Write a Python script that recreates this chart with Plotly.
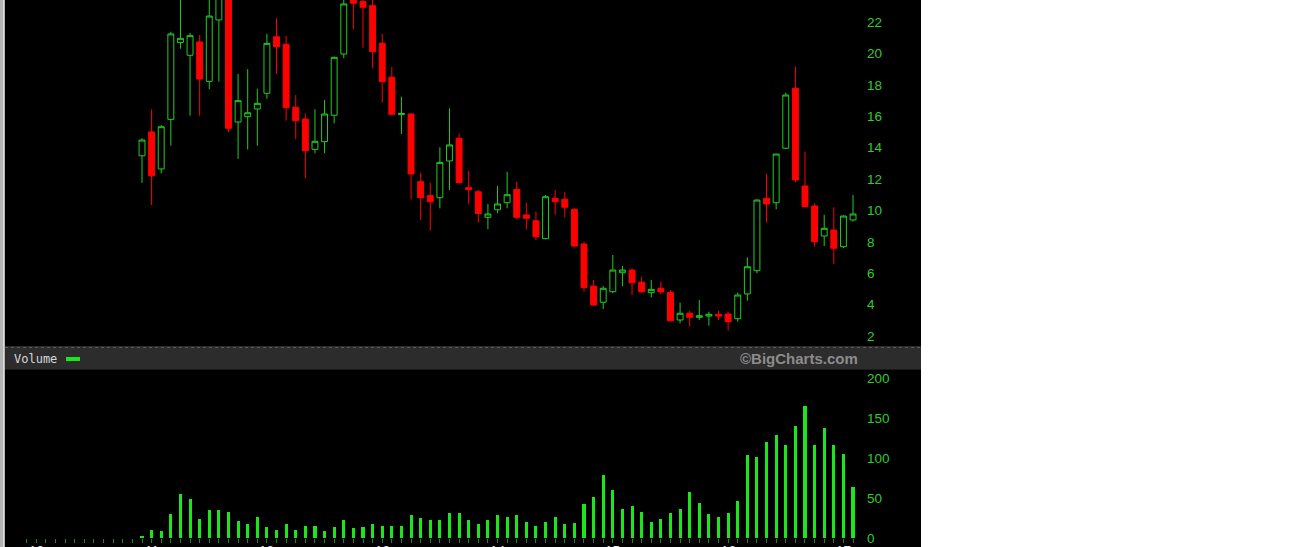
import plotly.graph_objects as go
import pandas as pd

# ---------------- data ----------------
months = [p.strftime("%Y-%m") for p in pd.period_range("2009-12", "2017-02", freq="M")]
price_months = months[12:]

open_ = [13.48, 15.00, 12.64, 15.80, 20.70, 19.88, 20.73, 18.22, 22.13, 25.50,
         15.63, 15.97, 16.46, 17.46, 21.06, 20.58, 16.57, 15.82, 13.89, 14.38,
         16.06, 19.96, 23.60, 23.30, 23.04, 20.64, 18.48, 16.10, 16.14, 11.83,
         10.94, 10.81, 13.15, 14.59, 11.45, 11.19, 9.56, 10.04, 10.49, 11.34,
         9.71, 9.34, 8.20, 10.77, 10.71, 10.07, 7.86, 5.18, 4.15, 4.82,
         6.03, 6.20, 5.42, 4.76, 5.04, 4.78, 3.02, 3.45, 3.19, 3.27,
         3.38, 3.40, 3.10, 4.68, 6.16, 10.77, 10.49, 13.96, 17.78, 11.55,
         10.28, 8.37, 8.75, 7.69, 9.39]
high = [14.60, 16.44, 15.44, 21.38, 24.50, 21.30, 21.17, 24.00, 26.00, 26.00,
        18.69, 19.00, 17.75, 21.25, 22.23, 21.11, 17.35, 16.18, 16.44, 17.03,
        19.80, 23.60, 24.00, 24.00, 23.60, 21.24, 19.15, 17.24, 16.18, 12.40,
        11.76, 14.02, 16.50, 14.91, 12.51, 11.30, 10.41, 11.55, 12.46, 11.83,
        10.49, 9.92, 10.98, 11.30, 11.19, 10.13, 8.01, 5.57, 5.18, 7.16,
        6.46, 6.31, 5.78, 5.57, 5.46, 4.93, 4.12, 3.61, 4.29, 3.55,
        3.61, 3.55, 4.76, 7.01, 10.70, 12.32, 13.60, 17.50, 19.15, 13.74,
        10.45, 9.71, 10.20, 9.69, 10.98]
low = [11.75, 10.34, 12.36, 14.12, 20.30, 16.03, 16.03, 17.71, 18.20, 14.97,
       13.29, 13.87, 14.12, 17.11, 18.69, 15.71, 14.53, 12.04, 13.64, 13.64,
       15.55, 19.69, 21.53, 20.36, 19.05, 16.86, 16.06, 14.87, 10.70, 9.39,
       8.71, 10.13, 11.30, 11.68, 10.39, 9.22, 8.80, 9.82, 10.13, 9.43,
       8.80, 8.11, 8.16, 9.71, 9.56, 7.67, 4.82, 3.91, 3.72, 4.72,
       5.18, 4.61, 4.76, 4.46, 4.66, 2.96, 2.81, 2.59, 3.02, 2.66,
       3.02, 2.34, 2.91, 4.25, 5.99, 9.22, 10.07, 13.90, 11.80, 10.20,
       7.69, 7.73, 6.59, 7.59, 9.28]
close = [14.48, 12.20, 15.33, 21.24, 20.96, 21.13, 18.37, 22.38, 25.00, 15.23,
         16.99, 16.22, 16.82, 20.64, 20.43, 16.54, 15.71, 13.80, 14.40, 16.14,
         19.75, 23.15, 23.20, 22.94, 20.11, 18.20, 16.12, 16.18, 12.32, 10.81,
         10.55, 13.06, 14.17, 11.77, 11.32, 9.81, 9.77, 10.41, 11.00, 9.56,
         9.50, 8.32, 10.87, 10.55, 10.20, 7.73, 5.08, 3.97, 5.04, 6.20,
         6.20, 5.39, 4.82, 4.97, 4.82, 2.97, 3.45, 3.19, 3.29, 3.38,
         3.27, 2.91, 4.61, 6.41, 10.66, 10.41, 13.59, 17.35, 11.94, 10.24,
         8.01, 8.86, 7.59, 9.64, 9.77]

volume = [0, 0, 0, 0, 0, 0, 0, 0, 0, 0, 0, 0,
          3, 11, 9.5, 30, 55, 49, 24, 35, 35, 33,
          22, 17.5, 27, 14.5, 10, 17.5, 11, 16, 16, 9.5,
          14.5, 22.5, 12.5, 14.5, 17.5, 16, 16, 16, 29, 25,
          22.5, 22.5, 32, 32, 22.5, 17.5, 22.5, 29, 27, 29,
          20, 16, 20, 27, 17.5, 19, 43, 52, 79, 61,
          37, 40, 33, 21, 24, 32, 37, 58, 44, 30,
          27, 32, 46.5, 104, 102, 120, 129.5, 117, 141, 166,
          117, 138, 117, 105, 64.5]

year_months = ["2010-01", "2011-01", "2012-01", "2013-01",
               "2014-01", "2015-01", "2016-01", "2017-01"]
year_text = ["10", "11", "12", "13", "14", "15", "16", "17"]
price_ticks = [2, 4, 6, 8, 10, 12, 14, 16, 18, 20, 22]
volume_ticks = [0, 50, 100, 150, 200]

# ---------------- style ----------------
W, H = 1292, 547
GREEN = "#22cc22"
RED = "#ff0000"
VGREEN = "#1ae61a"
LABEL_GREEN = "#2ecc2e"


def px(x):
    return x / W


def py(y):
    return 1 - y / H


fig = go.Figure()

fig.add_trace(go.Candlestick(
    x=price_months, open=open_, high=high, low=low, close=close,
    xaxis="x", yaxis="y",
    increasing=dict(line=dict(color=GREEN, width=1), fillcolor="#000000"),
    decreasing=dict(line=dict(color=RED, width=1), fillcolor=RED),
    whiskerwidth=0, showlegend=False, hoverinfo="skip",
))

fig.add_trace(go.Bar(
    x=months, y=volume, xaxis="x2", yaxis="y2",
    marker=dict(color=VGREEN, line=dict(width=0)),
    width=0.32, showlegend=False, hoverinfo="skip",
))

xdom = [px(5), px(866)]
xrange_ = [-2.259, 87.35]

fig.update_layout(
    width=W, height=H, autosize=False,
    margin=dict(l=0, r=0, t=0, b=0, autoexpand=False),
    paper_bgcolor="#ffffff",
    plot_bgcolor="#000000",
    boxgap=0.12,
    bargap=0.0,
    xaxis=dict(domain=xdom, anchor="y", type="category",
               categoryorder="array", categoryarray=months,
               range=xrange_, showticklabels=False, showgrid=False,
               zeroline=False, showline=False, ticks="",
               rangeslider=dict(visible=False)),
    yaxis=dict(domain=[py(346), 1], anchor="x", side="right",
               range=[22 - (346 - 22) / 15.7, 22 + 22 / 15.7],
               tickvals=price_ticks, showgrid=False, zeroline=False,
               showline=False, ticks="",
               tickfont=dict(family="Liberation Sans", size=13.5, color=LABEL_GREEN)),
    xaxis2=dict(domain=xdom, anchor="free", position=py(538.3), type="category",
                categoryorder="array", categoryarray=months,
                range=xrange_, showgrid=False, zeroline=False, showline=False,
                tickmode="array", tickvals=months, showticklabels=False,
                ticks="outside", ticklen=4, tickwidth=1, tickcolor="#168c16"),
    yaxis2=dict(domain=[0, py(370)], anchor="x2", side="right",
                range=[-(547 - 538.3) / 0.8, (538.3 - 370) / 0.8],
                tickvals=volume_ticks, showgrid=False, zeroline=False,
                showline=False, ticks="",
                tickfont=dict(family="Liberation Sans", size=13.5, color=LABEL_GREEN)),
)

shapes = [
    # black chart canvas
    dict(type="rect", xref="paper", yref="paper", x0=px(5), x1=px(921), y0=0, y1=1,
         fillcolor="#000000", line=dict(width=0), layer="below"),
    # left grey border
    dict(type="rect", xref="paper", yref="paper", x0=0, x1=px(5), y0=0, y1=1,
         fillcolor="#b4b4b4", line=dict(width=0), layer="below"),
    dict(type="line", xref="paper", yref="paper", x0=px(3.5), x1=px(3.5), y0=0, y1=1,
         line=dict(color="#dcdcdc", width=1), layer="below"),
    # separator band between panels
    dict(type="rect", xref="paper", yref="paper", x0=px(5), x1=px(921), y0=py(370), y1=py(346),
         fillcolor="#2c2c2c", line=dict(width=0), layer="below"),
    dict(type="line", xref="paper", yref="paper", x0=px(5), x1=px(921), y0=py(347.5), y1=py(347.5),
         line=dict(color="#5a5a5a", width=1, dash="dot"), layer="below"),
    dict(type="line", xref="paper", yref="paper", x0=px(5), x1=px(921), y0=py(369.5), y1=py(369.5),
         line=dict(color="#1a1a1a", width=1), layer="below"),
    # legend swatch for volume
    dict(type="rect", xref="paper", yref="paper", x0=px(66), x1=px(80), y0=py(361), y1=py(357),
         fillcolor=VGREEN, line=dict(width=0), layer="above"),
]
fig.update_layout(shapes=shapes)

# year labels along the bottom axis (cut by the lower edge, as in the source)
for m, t in zip(year_months, year_text):
    fig.add_annotation(text=t, xref="x2", yref="paper", x=m, y=py(541.5),
                       xanchor="center", yanchor="top", showarrow=False,
                       borderpad=0,
                       font=dict(family="Liberation Sans", size=13.5, color="#e6e6e6"))

fig.add_annotation(text="Volume", xref="paper", yref="paper", x=px(12), y=py(359),
                   xanchor="left", yanchor="middle", showarrow=False,
                   font=dict(family="DejaVu Sans Mono", size=12, color="#d8d8d8"))
fig.add_annotation(text="<b>©BigCharts.com</b>", xref="paper", yref="paper", x=px(860), y=py(358.5),
                   xanchor="right", yanchor="middle", showarrow=False,
                   font=dict(family="Liberation Sans", size=15, color="#8c8c8c"))

fig.write_html(
    "out.html",
    config={"responsive": False, "displayModeBar": False},
    post_script="document.body.style.margin='0px';document.body.style.overflow='hidden';",
)
